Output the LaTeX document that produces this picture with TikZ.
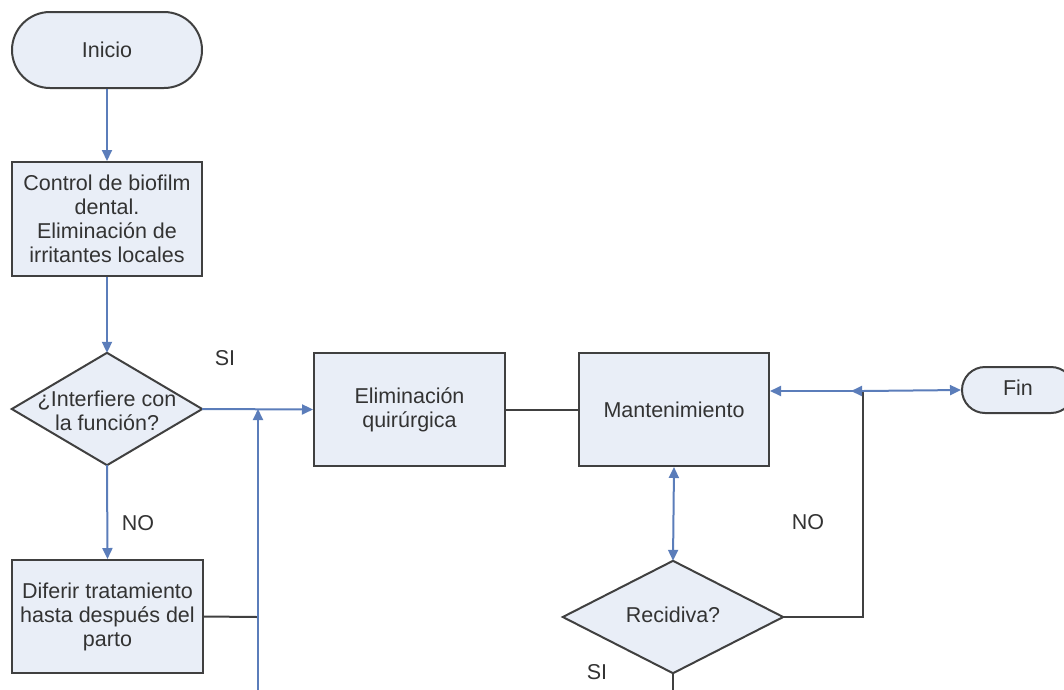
\documentclass[tikz,border=0pt]{standalone}
\usepackage{fontspec}
\setmainfont{Liberation Sans}
\usetikzlibrary{arrows.meta}
\definecolor{boxfill}{HTML}{E9EEF7}
\definecolor{boxline}{HTML}{404040}
\definecolor{conn}{HTML}{5B7DBA}
\definecolor{txtc}{HTML}{333333}
\begin{document}
\begin{tikzpicture}[x=1pt,y=-1pt,
  txt/.style={text=txtc, align=center, inner sep=0pt, font=\fontsize{21.5}{24}\selectfont},
  box/.style={txt, draw=boxline, fill=boxfill, line width=2pt},
  frame/.style={inner sep=0pt, draw=none},
  dshape/.style={draw=boxline, fill=boxfill, line width=2pt, line join=miter},
  blueline/.style={draw=conn, line width=2pt},
  darkline/.style={draw=boxline, line width=2pt},
  tip/.style={-{Triangle[length=11pt,width=10pt]}},
  dtip/.style={{Triangle[length=11pt,width=10pt]}-{Triangle[length=11pt,width=10pt]}}
]
\useasboundingbox (0,0) rectangle (1064,689);
\clip (0,0) rectangle (1064,689);

% nodes
\node[box, rounded corners=38pt, minimum width=190pt, minimum height=76pt] (ini) at (107,50) {Inicio};
\node[box, minimum width=190pt, minimum height=114pt] (ctrl) at (107,219) {Control de biofilm\\dental.\\Eliminación de\\irritantes locales};

\node[frame, minimum width=190pt, minimum height=112pt] (d1) at (107,409) {};
\draw[dshape] (d1.north) -- (d1.east) -- (d1.south) -- (d1.west) -- cycle;
\node[txt] (d1t) at (107,411) {¿Interfiere con\\la función?};

\node[box, minimum width=191pt, minimum height=113pt] (dif) at (107.5,616.5) {Diferir tratamiento\\hasta después del\\parto};
\node[box, minimum width=191pt, minimum height=113pt] (elim) at (409.5,409.5) {Eliminación\\quirúrgica};
\node[box, minimum width=190pt, minimum height=113pt] (mant) at (674,409.5) {Mantenimiento};

\node[frame, minimum width=220pt, minimum height=112pt] (d2) at (673,617) {};
\draw[dshape] (d2.north) -- (d2.east) -- (d2.south) -- (d2.west) -- cycle;
\node[txt] (d2t) at (673,615) {Recidiva?};

\node[box, rounded corners=23pt, minimum width=112pt, minimum height=46pt] (fin) at (1018,390) {};
\node[txt] (fint) at (1018,388) {Fin};

% labels
\node[txt] (lsi1) at (225,358) {SI};
\node[txt] (lno1) at (138,523) {NO};
\node[txt] (lno2) at (808,522) {NO};
\node[txt] (lsi2) at (597,672) {SI};

% coordinates
\coordinate (j1) at (258,409);
\coordinate (j1b) at (258,617);
\coordinate (b1) at (258,700);
\coordinate (j2) at (863,391);
\coordinate (j2t) at (851,391);
\coordinate (j2b) at (863,617);
\coordinate (b2) at (673,700);

% connectors
\draw[blueline, tip] (ini) -- (ctrl);
\draw[blueline, tip] (ctrl) -- (d1.north);
\draw[blueline, tip] (d1.east) -- (elim.west);
\draw[blueline, tip] (d1.south) -- (dif.north);
\draw[darkline] (dif.east) -- (j1b);
\draw[blueline, tip] (b1) -- (j1);
\draw[darkline] (elim.east) -- (mant.west);
\draw[blueline, dtip] (mant.south) -- (d2.north);
\draw[darkline] (d2.east) -- (j2b) -- (j2);
\draw[darkline] (d2.south) -- (b2);
\draw[blueline, tip] (j2) -- (mant.east |- j2);
\draw[blueline, tip] (j2) -- (j2t);
\draw[blueline, tip] (j2) -- (fin.west);
\end{tikzpicture}
\end{document}
